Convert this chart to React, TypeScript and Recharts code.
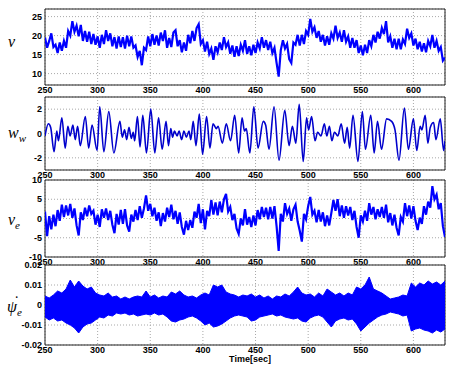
import React from 'react';
import { ComposedChart, Line, Area, XAxis, YAxis, CartesianGrid, ReferenceArea, Label } from 'recharts';

// time axis
const timeTicks = [250, 300, 350, 400, 450, 500, 550, 600];
const T_START = 250;
const T_END = 630;

// v : sampled every 2 s from 250 to 630
const vValues = [
  19.5, 16.8, 18.6, 20.6, 17.0, 17.6, 15.4, 18.2, 16.0, 18.6,
  16.8, 21.2, 20.0, 23.8, 21.0, 22.6, 19.8, 22.8, 18.6, 21.2,
  18.4, 21.0, 17.8, 20.4, 17.6, 19.8, 16.8, 20.2, 17.8, 21.4,
  18.6, 20.6, 17.2, 19.6, 16.6, 19.8, 17.0, 19.6, 16.6, 20.0,
  17.2, 19.8, 16.8, 17.4, 14.4, 16.0, 12.2, 16.8, 16.2, 19.8,
  17.2, 20.4, 17.6, 20.0, 17.4, 20.8, 18.6, 21.4, 16.8, 19.4,
  17.0, 20.8, 21.4, 17.2, 18.8, 15.6, 18.2, 16.0, 20.2, 18.0,
  21.2, 18.6, 22.0, 23.0, 17.8, 18.8, 15.8, 18.4, 15.2, 16.6,
  13.6, 17.2, 15.6, 18.2, 16.2, 19.6, 17.0, 18.2, 15.2, 17.4,
  14.4, 17.2, 14.6, 17.6, 16.0, 18.8, 15.2, 17.2, 14.8, 17.6,
  15.4, 18.2, 16.6, 19.6, 16.8, 18.8, 16.2, 18.4, 15.4, 16.8,
  12.8, 9.2, 16.2, 18.8, 16.6, 17.8, 13.8, 12.8, 18.2, 17.6,
  20.2, 17.4, 20.2, 17.8, 21.2, 20.2, 24.4, 21.0, 22.2, 19.4,
  21.2, 18.4, 20.2, 17.4, 19.8, 17.6, 20.6, 19.2, 22.6, 19.4,
  20.8, 18.4, 21.4, 18.4, 19.8, 16.8, 19.4, 16.8, 18.8, 15.4,
  17.4, 14.8, 17.6, 15.4, 18.8, 17.2, 20.2, 18.2, 21.0, 19.2,
  22.0, 20.4, 23.8, 18.2, 19.8, 16.8, 19.2, 16.4, 19.2, 16.4,
  19.0, 17.8, 21.8, 19.4, 20.6, 17.4, 19.2, 16.4, 18.4, 15.8,
  18.0, 15.6, 18.6, 17.2, 20.2, 16.8, 18.6, 16.0, 17.0, 13.4,
  14.2,
];
const vTicks = [10, 15, 20, 25];

// w_w : turning points (time, value)
const wwTimes = [
  250, 253.2, 255.4, 258.6, 261.2, 262.8, 266, 269.2, 271.7, 273.9,
  276.5, 278.7, 281, 283.5, 288.3, 291.5, 294.7, 299.5, 302, 305.9,
  310.6, 315.4, 321.2, 323.4, 325.6, 327.6, 329.8, 332, 333.8, 335.2,
  337.8, 340.3, 342.9, 346.4, 350.5, 354.3, 357.9, 361.3, 365, 367.3,
  369.5, 371.2, 373, 375.5, 377.4, 379.8, 382, 384.3, 386.8, 388.5,
  390.8, 393.4, 396.6, 399.7, 403.5, 406.7, 409.6, 412.8, 414.4, 418.5,
  422.2, 426.3, 430.2, 434, 437.2, 439.5, 441.2, 444.6, 448.4, 452.4,
  457.3, 459.6, 462.8, 467.6, 472.3, 477.8, 481.9, 485, 488.3, 491.5,
  495.3, 498.5, 500.4, 503.3, 506.5, 509, 512.2, 515.4, 517.7, 520.2,
  522.5, 525, 528.2, 531.4, 534.6, 537.1, 539.4, 542.6, 547.3, 551.5,
  554.4, 559.5, 562.7, 565.9, 569.7, 574.5, 579.3, 582.5, 586.3, 591.4,
  595.2, 600, 603.2, 606.4, 608, 611.2, 613.7, 616, 619.2, 621.4,
  625.5, 628.7, 630,
];
const wwValues = [
  -0.2, 0.8, 0.5, -1.5, 0.2, -0.6, 1.3, -1.2, 0.6, -0.2,
  0.7, -0.5, 0.6, -1.0, 1.4, -1.2, 0.7, -1.4, 2.2, -1.5,
  1.8, -1.6, 1.0, -0.3, 0.3, -0.5, 0.5, -0.4, 0.1, -0.6,
  1.4, -1.1, 1.5, -1.6, 2.0, -1.6, 1.3, -1.3, 1.0, -1.0,
  0.4, -0.3, 0.2, -0.2, 0.2, -0.5, 0.2, -0.3, 0.2, -0.5,
  1.0, -1.0, 1.6, -1.7, 1.4, -1.2, 0.8, 0.4, 0.6, -0.8,
  0.8, -0.6, 1.5, -1.6, 1.3, 0.2, 0.4, -1.6, 2.2, -1.2,
  1.0, 0.7, -1.3, 2.2, -2.2, 1.9, -1.0, 0.6, -0.8, 2.4,
  -2.3, 1.3, 0.3, 1.4, -0.6, 0.1, -0.2, 0.8, -0.2, 0.6,
  -0.6, 0.1, -0.2, 0.8, -0.8, 0.5, -1.2, 1.5, -2.3, 1.8,
  -1.3, 1.5, -1.6, 1.0, -1.3, 1.2, 1.0, 0.3, -2.2, 2.1,
  -1.3, 1.2, -1.4, 0.6, 0.3, 1.5, -0.8, 0.5, 0.9, -0.5,
  1.2, -1.4, -0.6,
];
const wwTicks = [-2, 0, 2];

// v_e : sampled every 2 s from 250 to 630
const veValues = [
  1.8, -4.6, 0.6, -2.8, 1.0, -2.0, 2.2, -0.6, 3.6, 0.4,
  3.4, 0.8, 3.8, 0.2, 2.6, -1.8, -4.4, 1.6, -0.4, 2.8,
  0.6, 3.4, 1.2, 2.0, -1.6, 1.0, -2.2, 2.4, 0.2, 2.6,
  -0.4, 2.0, -1.6, -3.8, 1.2, -1.6, 2.2, -1.4, 2.4, -1.8,
  -3.4, 1.0, -0.8, 2.2, -0.4, 3.2, 0.2, 2.6, 6.0, 2.0,
  3.8, 0.6, 2.8, -0.6, 1.6, -2.0, 1.4, -0.8, 2.8, 0.4,
  3.6, -0.2, 2.0, -1.4, 1.6, -2.2, -4.2, -0.6, -3.0, -0.4,
  -2.4, 1.8, 0.2, 3.8, -1.2, 2.4, -2.8, 2.0, 0.6, 4.8,
  1.0, 4.2, 0.8, 4.4, 1.6, 5.0, 6.4, 1.8, 3.0, -0.4,
  1.2, -2.6, -4.0, 0.0, -1.8, 2.4, -1.6, 0.4, -2.2, 0.8,
  -1.8, 2.2, -0.2, 3.0, 0.4, 2.8, -0.2, 3.0, 0.0, 3.2,
  -2.0, -8.4, 1.2, -0.8, 4.0, 1.2, 2.6, -0.6, 2.4, 3.6,
  -0.8, -3.2, -6.0, 1.2, -0.2, 3.2, 5.6, 1.0, 2.0, -1.0,
  2.2, -0.8, 1.6, -2.0, 0.8, -1.8, 1.4, 4.8, 2.0, 5.0,
  0.6, 3.4, 0.2, 3.2, 0.8, 3.0, -0.4, 2.0, -2.2, -5.0,
  0.8, -0.8, 2.0, -0.6, 4.0, 1.0, 3.0, -0.2, 2.4, 0.4,
  3.0, 0.2, 3.6, -1.0, 1.4, -1.8, 1.0, -2.4, -4.4, 0.4,
  -0.8, 4.0, 0.6, 3.4, 0.0, 3.2, -0.6, -3.0, 0.2, -1.4,
  3.2, 1.0, 4.4, 2.8, 8.4, 5.0, 6.2, 2.4, 4.0, -2.0,
  -4.8,
];
const veTicks = [-10, -5, 0, 5, 10];

// psi_e dot : band envelope every 4 s from 250 to 630
const psiHigh = [
  0.0045, 0.0035, 0.0050, 0.0070, 0.0060, 0.0080, 0.0125, 0.0090, 0.0120, 0.0095,
  0.0080, 0.0090, 0.0060, 0.0050, 0.0045, 0.0060, 0.0040, 0.0045, 0.0030, 0.0040,
  0.0030, 0.0040, 0.0045, 0.0040, 0.0070, 0.0040, 0.0050, 0.0035, 0.0045, 0.0040,
  0.0065, 0.0055, 0.0070, 0.0050, 0.0040, 0.0045, 0.0035, 0.0050, 0.0060, 0.0050,
  0.0100, 0.0090, 0.0100, 0.0065, 0.0055, 0.0050, 0.0040, 0.0050, 0.0045, 0.0055,
  0.0040, 0.0050, 0.0035, 0.0045, 0.0030, 0.0045, 0.0040, 0.0055, 0.0045, 0.0065,
  0.0090, 0.0060, 0.0050, 0.0055, 0.0040, 0.0060, 0.0045, 0.0080, 0.0065, 0.0050,
  0.0060, 0.0045, 0.0060, 0.0050, 0.0090, 0.0080, 0.0100, 0.0140, 0.0080, 0.0070,
  0.0060, 0.0045, 0.0030, 0.0035, 0.0040, 0.0050, 0.0045, 0.0110, 0.0090, 0.0110,
  0.0100, 0.0120, 0.0105, 0.0115, 0.0100, 0.0120,
];
const psiLow = [
  -0.0060, -0.0075, -0.0065, -0.0080, -0.0075, -0.0090, -0.0100, -0.0115, -0.0140, -0.0110,
  -0.0095, -0.0090, -0.0075, -0.0060, -0.0065, -0.0050, -0.0055, -0.0040, -0.0045, -0.0040,
  -0.0050, -0.0045, -0.0055, -0.0050, -0.0045, -0.0050, -0.0040, -0.0050, -0.0045, -0.0060,
  -0.0080, -0.0085, -0.0075, -0.0070, -0.0060, -0.0055, -0.0065, -0.0080, -0.0100, -0.0090,
  -0.0110, -0.0105, -0.0095, -0.0080, -0.0065, -0.0055, -0.0050, -0.0055, -0.0060, -0.0080,
  -0.0075, -0.0060, -0.0055, -0.0050, -0.0045, -0.0055, -0.0050, -0.0060, -0.0065, -0.0070,
  -0.0065, -0.0080, -0.0085, -0.0065, -0.0055, -0.0050, -0.0060, -0.0085, -0.0110, -0.0080,
  -0.0070, -0.0065, -0.0075, -0.0070, -0.0095, -0.0130, -0.0110, -0.0090, -0.0075, -0.0060,
  -0.0050, -0.0045, -0.0035, -0.0040, -0.0045, -0.0055, -0.0050, -0.0130, -0.0120, -0.0115,
  -0.0125, -0.0130, -0.0140, -0.0125, -0.0135, -0.0120,
];
const psiTicks = [-0.02, -0.01, 0, 0.01, 0.02];

const vData = vValues.map((v, i) => ({ t: T_START + 2 * i, v }));
const wwData = wwValues.map((w, i) => ({ t: wwTimes[i], w }));
const veData = veValues.map((v, i) => ({ t: T_START + 2 * i, v }));
const psiData = psiHigh.map((hi, i) => ({ t: T_START + 4 * i, band: [psiLow[i], hi] }));

const BLUE = '#0000ff';
const sansBold = '"Liberation Sans", Arial, sans-serif';
const tickFont = { fontSize: 9, fontWeight: 700, fill: '#000', fontFamily: sansBold };

type PanelProps = {
  top: number;
  height: number;
  xHeight: number;
  yDomain: [number, number];
  yTicks: number[];
  data: any[];
  xLabel?: string;
  children: React.ReactNode;
};

function Panel({ top, height, xHeight, yDomain, yTicks, data, xLabel, children }: PanelProps) {
  return (
    <div style={{ position: 'absolute', left: 0, top }}>
      <ComposedChart width={450} height={height} data={data} margin={{ top: 9, right: 5, bottom: 0, left: 0 }}>
        <CartesianGrid stroke="#a8a8a8" strokeDasharray="1 2" />
        <XAxis
          dataKey="t"
          type="number"
          domain={[T_START, T_END]}
          ticks={timeTicks}
          allowDataOverflow
          interval={0}
          height={xHeight}
          tick={tickFont}
          tickLine={false}
          axisLine={false}
          tickSize={0}
          tickMargin={2}
        >
          {xLabel ? (
            <Label value={xLabel} position="insideBottom" offset={6} dx={5}
              style={{ fontSize: 9, fontWeight: 700, fill: '#000', fontFamily: sansBold }} />
          ) : null}
        </XAxis>
        <YAxis
          type="number"
          domain={yDomain}
          ticks={yTicks}
          allowDataOverflow
          interval={0}
          width={45}
          tick={tickFont}
          tickLine={false}
          axisLine={false}
          tickSize={0}
          tickMargin={3}
        />
        <ReferenceArea x1={T_START} x2={T_END} y1={yDomain[0]} y2={yDomain[1]} fill="none" stroke="#222" strokeWidth={1} ifOverflow="visible" />
        {children}
      </ComposedChart>
    </div>
  );
}

const symStyle: React.CSSProperties = {
  position: 'absolute',
  fontFamily: '"Liberation Serif", "DejaVu Serif", serif',
  fontStyle: 'italic',
  fontSize: 16,
  lineHeight: '16px',
  color: '#000',
};

export default function App() {
  return (
    <div style={{ position: 'absolute', left: 0, top: 0, width: 450, height: 368, background: '#fff', overflow: 'hidden' }}>
      <Panel top={0} height={100} xHeight={15} yDomain={[7, 27]} yTicks={vTicks} data={vData}>
        <Line type="linear" dataKey="v" stroke={BLUE} strokeWidth={2.2} dot={false} isAnimationActive={false} />
      </Panel>
      <Panel top={88} height={97} xHeight={15} yDomain={[-3, 3]} yTicks={wwTicks} data={wwData}>
        <Line type="monotone" dataKey="w" stroke="#0000cc" strokeWidth={1.6} dot={false} isAnimationActive={false} />
      </Panel>
      <Panel top={171} height={101} xHeight={15} yDomain={[-10, 10]} yTicks={veTicks} data={veData}>
        <Line type="linear" dataKey="v" stroke={BLUE} strokeWidth={2.2} dot={false} isAnimationActive={false} />
      </Panel>
      <Panel top={256} height={112} xHeight={23} yDomain={[-0.02, 0.02]} yTicks={psiTicks} data={psiData} xLabel="Time[sec]">
        <Area type="linear" dataKey="band" stroke={BLUE} strokeWidth={1} fill={BLUE} fillOpacity={1} isAnimationActive={false} />
      </Panel>
      <span style={{ ...symStyle, left: 8, top: 34 }}>v</span>
      <span style={{ ...symStyle, left: 8, top: 125 }}>w<sub style={{ fontSize: 11 }}>w</sub></span>
      <span style={{ ...symStyle, left: 8, top: 212 }}>v<sub style={{ fontSize: 11 }}>e</sub></span>
      <span style={{ ...symStyle, left: 7, top: 299 }}>
        <span style={{ position: 'relative', display: 'inline-block' }}>
          ψ
          <span style={{ position: 'absolute', left: 7, top: -5, fontStyle: 'normal' }}>˙</span>
        </span>
        <sub style={{ fontSize: 11 }}>e</sub>
      </span>
    </div>
  );
}
